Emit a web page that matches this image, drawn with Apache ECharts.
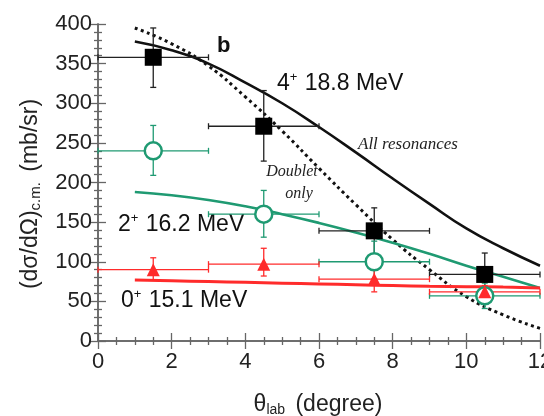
<!DOCTYPE html>
<html><head><meta charset="utf-8">
<script src="https://cdn.jsdelivr.net/npm/echarts@6/dist/echarts.min.js"></script>
<style>html,body{margin:0;padding:0;background:#fff}#c{width:544px;height:416px}</style>
</head><body><div id="c"></div>
<script>
// ---- data ----
const angles = [1.5, 4.5, 7.5, 10.5];
const angleErr = [1.5, 1.5, 1.5, 1.5];
const state4 = [358, 271, 139, 84];
const state4Lo = [320, 227, 110, 60];
const state4Hi = [395, 316, 168, 111];
const state2 = [240, 160, 100, 57];
const state2Lo = [209, 131, 78, 41];
const state2Hi = [272, 190, 126, 73];
const state0 = [90, 97, 78, 62];
const state0Lo = [77, 82, 62, 54];
const state0Hi = [105, 117, 100, 70];
const curveX = [1, 2, 3, 4, 5, 6, 7, 8, 9, 10, 11, 12];
const allRes = [378, 367, 350, 326, 300, 270, 238, 205, 173, 142, 117, 95];
const doubletOnly = [395, 375, 347, 308, 265, 218, 172, 128, 90, 56, 33, 16];
const fit2 = [188, 184, 178, 170, 160, 149, 137, 124, 110, 95, 81, 67];
const fit0 = [77, 76, 75, 74, 73, 72, 71, 70, 69, 68.5, 68, 67];
const xTicks = [0, 2, 4, 6, 8, 10, 12];
const yTicks = [0, 50, 100, 150, 200, 250, 300, 350, 400];

const BLACK = '#111', GREEN = '#1f9a72', RED = '#ff2b2b';
const FONT = 'Liberation Sans, Arial, sans-serif';
const pts = (ys) => angles.map((x, i) => [x, ys[i]]);
const line = (ys) => curveX.map((x, i) => [x, ys[i]]);
const errData = (ys, lo, hi) => angles.map((x, i) => [x, ys[i], x - angleErr[i], x + angleErr[i], lo[i], hi[i]]);

function errSeries(ys, lo, hi, color) {
  return {
    type: 'custom', z: 3,
    data: errData(ys, lo, hi),
    renderItem: function (params, api) {
      const c = api.coord([api.value(0), api.value(1)]);
      const l = api.coord([api.value(2), api.value(1)]);
      const r = api.coord([api.value(3), api.value(1)]);
      const b = api.coord([api.value(0), api.value(4)]);
      const t = api.coord([api.value(0), api.value(5)]);
      const cap = 3;
      const st = { stroke: color, lineWidth: 1.3, fill: null };
      return { type: 'group', children: [
        { type: 'line', shape: { x1: l[0], y1: c[1], x2: r[0], y2: c[1] }, style: st },
        { type: 'line', shape: { x1: l[0], y1: c[1] - cap, x2: l[0], y2: c[1] + cap }, style: st },
        { type: 'line', shape: { x1: r[0], y1: c[1] - cap, x2: r[0], y2: c[1] + cap }, style: st },
        { type: 'line', shape: { x1: c[0], y1: b[1], x2: c[0], y2: t[1] }, style: st },
        { type: 'line', shape: { x1: c[0] - cap, y1: b[1], x2: c[0] + cap, y2: b[1] }, style: st },
        { type: 'line', shape: { x1: c[0] - cap, y1: t[1], x2: c[0] + cap, y2: t[1] }, style: st }
      ] };
    }
  };
}

const chart = echarts.init(document.getElementById('c'), null, { renderer: 'canvas' });
const axisLine = { show: true, lineStyle: { color: '#666', width: 1.5 } };
const tickStyle = { color: '#666', width: 1.3 };
const baseX = {
  type: 'value', min: 0, max: 12, interval: 2,
  axisLine: axisLine,
  axisTick: { show: true, inside: true, length: 8, lineStyle: tickStyle },
  minorTick: { show: true, splitNumber: 4, length: 4, lineStyle: tickStyle },
  splitLine: { show: false }
};
const baseY = {
  type: 'value', min: 0, max: 400, interval: 50,
  axisLine: axisLine,
  axisTick: { show: true, inside: true, length: 8, lineStyle: tickStyle },
  minorTick: { show: true, splitNumber: 5, length: 4, lineStyle: tickStyle },
  splitLine: { show: false }
};
const labelFont = { fontFamily: FONT, fontSize: 22, color: '#222' };
const supRich = {
  a: { fontFamily: FONT, fontSize: 23, fill: '#111', lineHeight: 26 },
  s: { fontFamily: FONT, fontSize: 13, fill: '#111', padding: [0, 1, 13, 0] }
};

chart.setOption({
  animation: false,
  backgroundColor: '#fff',
  grid: { left: 98, right: 4, top: 24, bottom: 75, outerBoundsMode: 'none', containLabel: false },
  xAxis: [
    Object.assign({}, baseX, {
      position: 'bottom',
      axisLabel: Object.assign({ margin: 10, formatter: v => xTicks.includes(v) ? String(v) : '' }, labelFont)
    }),
    Object.assign({}, baseX, { position: 'top', axisLabel: { show: false } })
  ],
  yAxis: [
    Object.assign({}, baseY, {
      position: 'left',
      axisLabel: Object.assign({ margin: 6, formatter: v => yTicks.includes(v) ? String(v) : '' }, labelFont)
    }),
    Object.assign({}, baseY, { position: 'right', axisLabel: { show: false } })
  ],
  series: [
    { type: 'line', data: line(allRes), smooth: true, symbol: 'none', z: 2,
      lineStyle: { color: BLACK, width: 2.6 } },
    { type: 'line', data: line(doubletOnly), smooth: true, symbol: 'none', z: 2,
      lineStyle: { color: BLACK, width: 3, type: [3, 3.5] } },
    { type: 'line', data: line(fit2), smooth: true, symbol: 'none', z: 2,
      lineStyle: { color: GREEN, width: 2.6 } },
    { type: 'line', data: line(fit0), smooth: true, symbol: 'none', z: 2,
      lineStyle: { color: RED, width: 3 } },
    errSeries(state4, state4Lo, state4Hi, '#222'),
    errSeries(state2, state2Lo, state2Hi, GREEN),
    errSeries(state0, state0Lo, state0Hi, RED),
    { type: 'scatter', data: pts(state4), symbol: 'rect', symbolSize: 17, z: 5,
      itemStyle: { color: '#000', opacity: 1 } },
    { type: 'scatter', data: pts(state2), symbol: 'circle', symbolSize: 17, z: 5,
      itemStyle: { color: '#fff', borderColor: GREEN, borderWidth: 2.5, opacity: 1 } },
    { type: 'scatter', data: pts(state0), symbol: 'triangle', symbolSize: 13, z: 5,
      itemStyle: { color: RED, opacity: 1 } }
  ],
  graphic: [
    { type: 'text', left: 217, top: 35, style: { text: 'b', font: 'bold 22px Liberation Sans, Arial, sans-serif', fill: '#111' } },
    { type: 'text', left: 277, top: 71, style: { text: '{a|4}{s|+}{a| 18.8 MeV}', rich: supRich } },
    { type: 'text', left: 358, top: 136, style: { text: 'All resonances', font: 'italic 17px Liberation Serif, Times New Roman, serif', fill: '#222' } },
    { type: 'text', x: 292, y: 172, style: { text: 'Doublet', align: 'center', verticalAlign: 'middle', font: 'italic 16px Liberation Serif, Times New Roman, serif', fill: '#222' } },
    { type: 'text', x: 299, y: 194, style: { text: 'only', align: 'center', verticalAlign: 'middle', font: 'italic 16px Liberation Serif, Times New Roman, serif', fill: '#222' } },
    { type: 'text', left: 118, top: 212, style: { text: '{a|2}{s|+}{a| 16.2 MeV}', rich: supRich } },
    { type: 'text', left: 121, top: 288, style: { text: '{a|0}{s|+}{a| 15.1 MeV}', rich: supRich } },
    { type: 'text', x: 31, y: 194, rotation: Math.PI / 2, style: {
      text: '{t|(dσ/dΩ)}{s|c.m.}{t| (mb/sr)}', align: 'center', verticalAlign: 'middle',
      rich: {
        t: { fontFamily: FONT, fontSize: 23, fill: '#222' },
        s: { fontFamily: FONT, fontSize: 15, fill: '#222', padding: [10, 4, 0, 0] }
      } } },
    { type: 'text', x: 318, y: 405, style: {
      text: '{t|θ}{s|lab}{t| (degree)}', align: 'center', verticalAlign: 'middle',
      rich: {
        t: { fontFamily: FONT, fontSize: 23, fill: '#222' },
        s: { fontFamily: FONT, fontSize: 14, fill: '#222', padding: [10, 4, 0, 0] }
      } } }
  ]
});
</script></body></html>
